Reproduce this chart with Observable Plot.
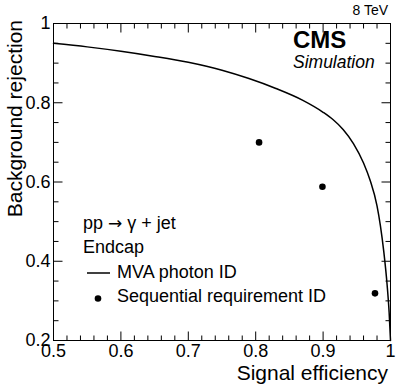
<!DOCTYPE html>
<html><head><meta charset="utf-8">
<script src="https://cdn.jsdelivr.net/npm/d3@7"></script>
<script src="https://cdn.jsdelivr.net/npm/@observablehq/plot@0.6"></script>
<style>
body{margin:0;background:#fff;}
svg text{font-family:"Liberation Sans",Arial,Helvetica,sans-serif;}
</style></head><body><div id="chart"></div>
<script>
// MVA photon ID ROC curve (signal efficiency vs background rejection)
const mvaEff = [0.50, 0.55, 0.60, 0.65, 0.70, 0.75, 0.79, 0.83, 0.87, 0.90, 0.915, 0.93, 0.945, 0.96, 0.97, 0.98, 0.985, 0.99, 0.995, 0.998, 1.0];
const mvaRej = [0.950, 0.941, 0.930, 0.917, 0.902, 0.882, 0.861, 0.836, 0.806, 0.776, 0.757, 0.732, 0.697, 0.648, 0.603, 0.540, 0.490, 0.425, 0.340, 0.270, 0.200];
// Sequential requirement ID working points
const seqEff = [0.805, 0.899, 0.977];
const seqRej = [0.700, 0.588, 0.319];
// Axis ticks
const xMajor = [0.5, 0.6, 0.7, 0.8, 0.9, 1];
const xTickLabels = ["0.5", "0.6", "0.7", "0.8", "0.9", "1"];
const xMinor = [0.52, 0.54, 0.56, 0.58, 0.62, 0.64, 0.66, 0.68, 0.72, 0.74, 0.76, 0.78, 0.82, 0.84, 0.86, 0.88, 0.92, 0.94, 0.96, 0.98];
const yMajor = [0.2, 0.4, 0.6, 0.8, 1];
const yTickLabels = ["0.2", "0.4", "0.6", "0.8", "1"];
const yMinor = [0.25, 0.3, 0.35, 0.45, 0.5, 0.55, 0.65, 0.7, 0.75, 0.85, 0.9, 0.95];
// Texts
const xTitle = "Signal efficiency";
const yTitle = "Background rejection";
const energyText = "8 TeV";
const cmsText = "CMS";
const simText = "Simulation";
const processParts = ["pp ", "\u2192", " \u03b3 + jet"];
const regionText = "Endcap";
const seriesNames = ["MVA photon ID", "Sequential requirement ID"];

const mvaData = mvaEff.map((x, i) => ({x, y: mvaRej[i]}));
const seqData = seqEff.map((x, i) => ({x, y: seqRej[i]}));

const W = 407, H = 387, mL = 53, mR = 17, mT = 23, mB = 47;
const majLen = 9, minLen = 5;
const font = "Liberation Sans, Arial, Helvetica, sans-serif";

// inward tick symbols (ROOT style)
const tickSym = (dx, dy) => ({draw(ctx) { ctx.moveTo(0, 0); ctx.lineTo(dx, dy); }});
const xMin = 0.5, xMax = 1, yMin = 0.2, yMax = 1;
function tickMarks(values, len, axis) {
  const common = {stroke: "black", strokeWidth: 1, fill: "none"};
  if (axis === "x") return [
    Plot.dot(values, {x: d => d, y: () => yMin, symbol: tickSym(0, -len), ...common}),
    Plot.dot(values, {x: d => d, y: () => yMax, symbol: tickSym(0, len), ...common})
  ];
  return [
    Plot.dot(values, {y: d => d, x: () => xMin, symbol: tickSym(len, 0), ...common}),
    Plot.dot(values, {y: d => d, x: () => xMax, symbol: tickSym(-len, 0), ...common})
  ];
}

const svg = Plot.plot({
  width: W, height: H,
  marginLeft: mL, marginRight: mR, marginTop: mT, marginBottom: mB,
  style: {fontFamily: font, fontSize: "18px", background: "white", color: "black"},
  x: {domain: [xMin, xMax], axis: null},
  y: {domain: [yMin, yMax], axis: null},
  marks: [
    ...tickMarks(xMajor, majLen, "x"),
    ...tickMarks(xMinor, minLen, "x"),
    ...tickMarks(yMajor, majLen, "y"),
    ...tickMarks(yMinor, minLen, "y"),
    Plot.axisX({ticks: xMajor, tickSize: 0, tickPadding: 4, anchor: "bottom",
      tickFormat: d => xTickLabels[xMajor.indexOf(d)], fontSize: 18, label: null}),
    Plot.axisY({ticks: yMajor, tickSize: 0, tickPadding: 3, anchor: "left",
      tickFormat: d => yTickLabels[yMajor.indexOf(d)], fontSize: 18, label: null}),
    Plot.line(mvaData, {x: "x", y: "y", stroke: "black", strokeWidth: 1.5, curve: "monotone-x"}),
    Plot.dot(seqData, {x: "x", y: "y", r: 3.3, fill: "black", stroke: null}),
    Plot.frame({stroke: "black", strokeWidth: 1})
  ]
});

const s = d3.select(svg);
function txt(x, y, t, size, opts = {}) {
  const e = s.append("text").attr("x", x).attr("y", y).text(t)
    .attr("font-size", size).attr("fill", "black").attr("font-family", font)
    .attr("text-anchor", opts.anchor || "start");
  if (opts.weight) e.attr("font-weight", opts.weight);
  if (opts.style) e.attr("font-style", opts.style);
  if (opts.transform) e.attr("transform", opts.transform);
  return e;
}
// axis titles
txt(388, 380, xTitle, 21, {anchor: "end"});
txt(0, 0, yTitle, 21, {anchor: "end", transform: "translate(22,20) rotate(-90)"});
// header texts
txt(388, 15, energyText, 14, {anchor: "end"});
txt(293, 48, cmsText, 24, {weight: "bold"});
txt(293, 68, simText, 17.5, {style: "italic"});
// legend
const proc = txt(83, 229, "", 18);
proc.append("tspan").text(processParts[0]);
proc.append("tspan").attr("font-family", "DejaVu Sans").attr("font-size", 17).text(processParts[1]);
proc.append("tspan").text(processParts[2]);
txt(83, 253, regionText, 18);
s.append("line").attr("x1", 87).attr("x2", 110).attr("y1", 273).attr("y2", 273)
  .attr("stroke", "black").attr("stroke-width", 1.5);
txt(117, 278, seriesNames[0], 18);
s.append("circle").attr("cx", 98).attr("cy", 298.5).attr("r", 3.3).attr("fill", "black");
txt(117, 302, seriesNames[1], 18);

document.getElementById("chart").appendChild(svg);
</script>
</body></html>
